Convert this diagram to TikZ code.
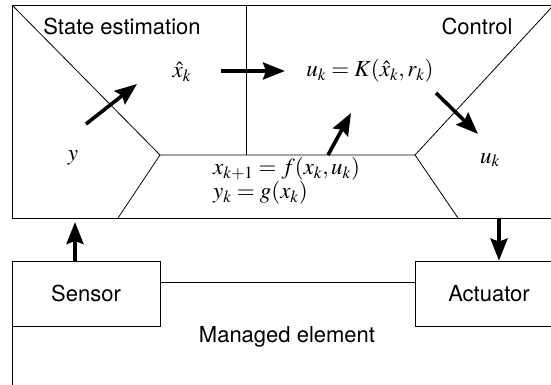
\documentclass[tikz,border=0pt]{standalone}
\usepackage{mathptmx}
\usepackage[no-math]{fontspec}
\setmainfont{TeX Gyre Heros}
\usetikzlibrary{positioning, arrows.meta}

\begin{document}
\begin{tikzpicture}[
			% GLOBAL CFG
			x=1pt, y=-1pt,
			font=\fontsize{22}{26}\selectfont,
			>={Stealth[length=22pt, width=17pt, inset=3pt]},
			% Styles
			frame/.style={% For the big outer boxes
				rectangle,
				draw=black,
				line width=.8pt,
				inner sep=0pt,
			},
			block/.style={% For sensor and actuator
				rectangle,
				draw=black,
				fill=white,
				line width=.8pt,
				minimum width=148pt,
				minimum height=65pt,
				inner sep=0pt,
			},
			edge/.style={% Thin partition lines
				line width=.8pt,
			},
			flow/.style={% Thick arrows
				->,
				line width=3.6pt,
			},
			mathlabel/.style={% Formulas, a bit larger
				font=\fontsize{23}{20}\selectfont,
				inner sep=1pt,
			},
			]
			\useasboundingbox (0,0) rectangle (551,385);
			\clip (0,0) rectangle (551,385);
			
			% Managed element (open to the right and below)
			\node [frame, anchor=north west, minimum width=560pt, minimum height=130pt] (plant) at (12,282) {};
			\node (plantname) at (287,337) {Managed element};
			
			% Sensor and actuator
			\node [block] (sensor) at (86,293.5) {Sensor};
			\node [block] (actuator) at (489,293.5) {Actuator};
			
			% Autonomic manager box
			\node [frame, anchor=north west, minimum width=541pt, minimum height=213pt] (loop) at (12,5) {};
			
			% Partition of the manager box
			\coordinate (ml) at (160,155);
			\coordinate (mr) at (415,155);
			\coordinate (bl) at (118,218);
			\coordinate (br) at (458,218);
			\coordinate (divtop) at (246,5);
			\draw [edge] (loop.north west) -- (ml) -- (mr) -- (loop.north east);
			\draw [edge] (bl) -- (ml);
			\draw [edge] (br) -- (mr);
			\draw [edge] (divtop) -- (divtop |- ml);
			
			% Labels
			\node (est) at (122,26) {State estimation};
			\node (ctl) at (477,26) {Control};
			\node [mathlabel] (xhat) at (182,72) {$\hat{x}_k$};
			\node [mathlabel] (law) at (370,71) {$u_k = K(\hat{x}_k, r_k)$};
			\node [mathlabel] (yin) at (73,158) {$y$};
			\node [mathlabel] (uout) at (490,160) {$u_k$};
			\node [mathlabel, align=left, anchor=west] (model) at (212,181) {$x_{k+1} = f(x_k, u_k)$\\$y_k = g(x_k)$};
			
			% Arrow ends
			\coordinate (yfrom) at (86,124);
			\coordinate (yto) at (137,84);
			\coordinate (xfrom) at (221,71);
			\coordinate (xto) at (285,71);
			\coordinate (mfrom) at (328,155);
			\coordinate (mto) at (351,113);
			\coordinate (ufrom) at (436,93);
			\coordinate (uto) at (478,134);
			\coordinate (sin) at (75,222);
			\coordinate (aout) at (499,218);
			
			% Drawing arrows
			\draw [flow] (yfrom) -- (yto);
			\draw [flow] (xfrom) -- (xto);
			\draw [flow] (mfrom) -- (mto);
			\draw [flow] (ufrom) -- (uto);
			\draw [flow] (sensor.north -| sin) -- (sin);
			\draw [flow] (aout) -- (aout |- actuator.north);
			
\end{tikzpicture}
\end{document}
